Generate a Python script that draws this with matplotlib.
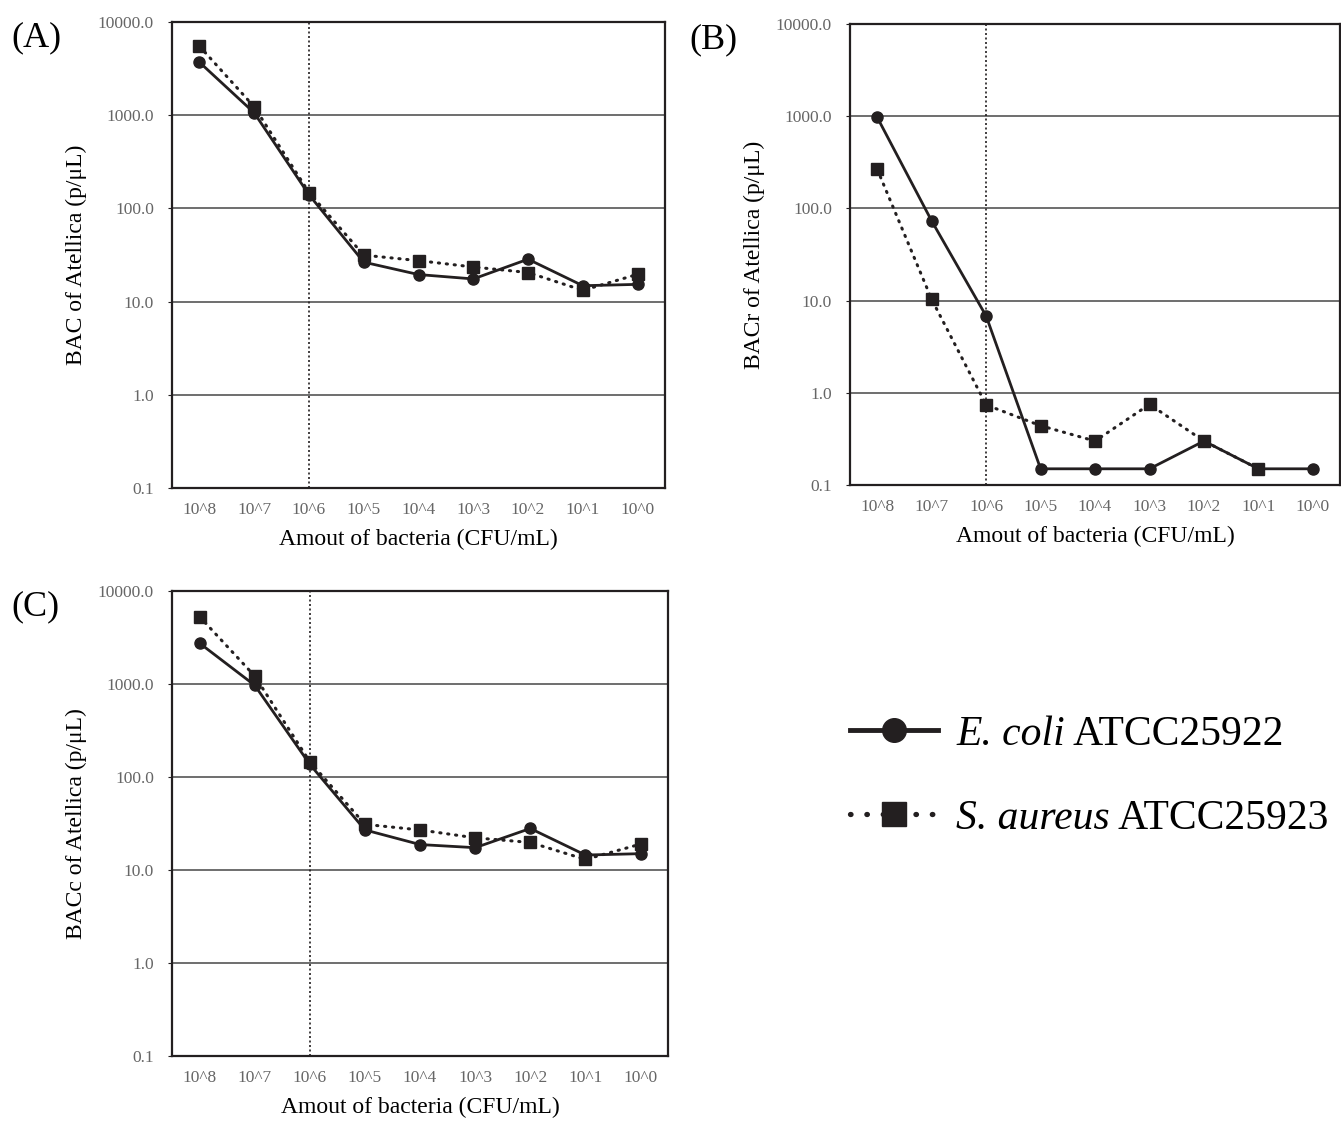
import numpy as np
import matplotlib
matplotlib.use("Agg")
import matplotlib.pyplot as plt
from matplotlib.lines import Line2D

plt.rcParams['font.family'] = ['Liberation Serif', 'DejaVu Serif']

categories = ["10^8", "10^7", "10^6", "10^5", "10^4", "10^3", "10^2", "10^1", "10^0"]
y_ticks = [0.1, 1, 10, 100, 1000, 10000]
y_ticklabels = ["0.1", "1.0", "10.0", "100.0", "1000.0", "10000.0"]

# BAC of Atellica (A)
ecoli_bac = [3700, 1060, 140, 26.5, 19.5, 17.5, 28.5, 14.8, 15.3]
saureus_bac = [5500, 1230, 148, 31.5, 27.5, 23.5, 20.5, 13.2, 19.6]

# BACr of Atellica (B)
ecoli_bacr = [970, 73, 6.8, 0.15, 0.15, 0.15, 0.30, 0.15, 0.15]
saureus_bacr = [265, 10.3, 0.74, 0.44, 0.30, 0.75, 0.30, 0.15, np.nan]

# BACc of Atellica (C)
ecoli_bacc = [2750, 970, 137, 27, 18.8, 17.4, 28, 14.5, 15]
saureus_bacc = [5300, 1220, 146, 31, 27, 22.2, 19.8, 13, 19]

species = ["E. coli", "S. aureus"]
strains = ["ATCC25922", "ATCC25923"]

ink = "#231f20"

fig = plt.figure(figsize=(13.41, 11.28), dpi=100)

panels = [
    ("(A)", "BAC of Atellica (p/\u03bcL)", ecoli_bac, saureus_bac, [0.1283, 0.5674, 0.3676, 0.4131]),
    ("(B)", "BACr of Atellica (p/\u03bcL)", ecoli_bacr, saureus_bacr, [0.6339, 0.5700, 0.3654, 0.4087]),
    ("(C)", "BACc of Atellica (p/\u03bcL)", ecoli_bacc, saureus_bacc, [0.1283, 0.0638, 0.3699, 0.4122]),
]

x = np.arange(len(categories))
for tag, ylab, ec, sa, rect in panels:
    ax = fig.add_axes(rect)
    ax.set_yscale('log')
    ax.set_ylim(0.1, 10000)
    ax.set_xlim(-0.5, len(categories) - 0.5)
    ax.set_yticks(y_ticks)
    ax.set_yticklabels(y_ticklabels)
    ax.minorticks_off()
    ax.set_xticks(x)
    ax.set_xticklabels(categories)
    ax.tick_params(axis='x', labelsize=12.5, labelcolor="#666666", length=0, pad=10)
    ax.tick_params(axis='y', labelsize=12.5, labelcolor="#666666", length=3, color=ink, pad=10)
    ax.yaxis.grid(True, color="#555555", lw=1.2)
    ax.set_axisbelow(True)
    for sp in ax.spines.values():
        sp.set_color(ink)
        sp.set_linewidth(1.6)
    ax.axvline(2, color=ink, lw=1.2, ls=(0, (1.2, 1.5)), zorder=1)
    ax.plot(x, ec, color=ink, lw=2.0, marker='o', ms=8, zorder=3)
    ax.plot(x, sa, color=ink, lw=2.2, ls=(0, (0.4, 2.2)), dash_capstyle='round',
            marker='s', ms=8, zorder=4)
    ax.set_ylabel(ylab, fontsize=17, labelpad=8)
    ax.set_xlabel("Amout of bacteria (CFU/mL)", fontsize=17, labelpad=8)
    fig.text(rect[0] - 0.12, rect[1] + rect[3] + 0.001, tag, fontsize=26, va='top', ha='left')

handles = [
    Line2D([], [], color=ink, lw=3.5, marker='o', ms=17),
    Line2D([], [], color=ink, lw=3.8, ls=(0, (0.1, 3.0)), dash_capstyle='round', marker='s', ms=17),
]
leg = fig.legend(handles, species, loc='center left', bbox_to_anchor=(0.606, 0.3115),
                 frameon=False, fontsize=30, handlelength=2.1, handletextpad=0.45,
                 labelspacing=1.1)
for txt in leg.get_texts():
    txt.set_fontstyle('italic')

# strain names in roman type, placed right after the italic species names
fig.canvas.draw()
renderer = fig.canvas.get_renderer()
inv = fig.transFigure.inverted()
for txt, strain in zip(leg.get_texts(), strains):
    bb = txt.get_window_extent(renderer)
    fx, fy = inv.transform((bb.x1, bb.y0))
    fig.text(fx, fy, " " + strain, fontsize=30, va='bottom', ha='left')

fig.savefig("out.png", dpi=100)
